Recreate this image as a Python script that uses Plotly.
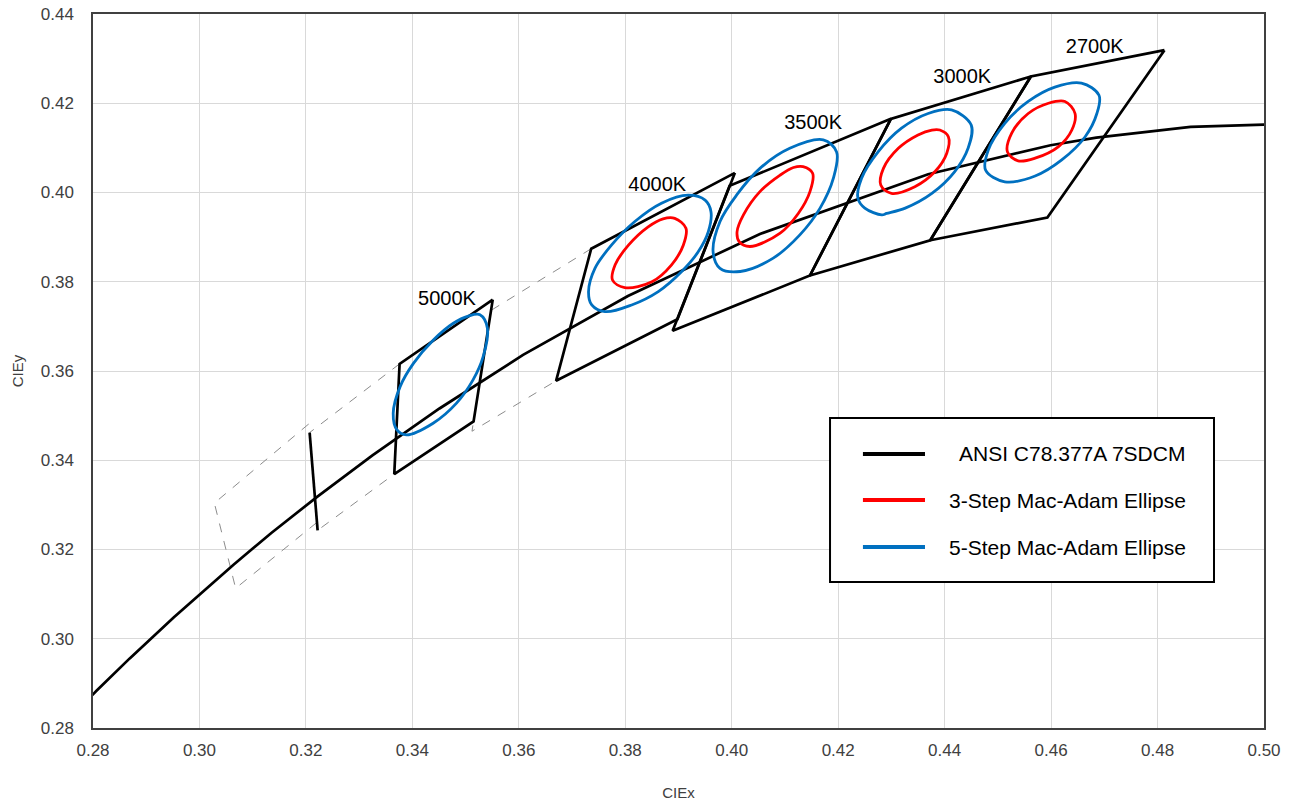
import plotly.graph_objects as go

# Planckian locus, CIE 1931 (x, y)
locus_x = [0.2759, 0.2807, 0.2869, 0.2952, 0.3064, 0.3135, 0.3221, 0.3325, 0.3451,
           0.3608, 0.3805, 0.4053, 0.4369, 0.4599, 0.4685, 0.4862, 0.5018]
locus_y = [0.2826, 0.2884, 0.2956, 0.3048, 0.3166, 0.3237, 0.3318, 0.3411, 0.3516,
           0.3636, 0.3768, 0.3907, 0.4041, 0.4106, 0.4123, 0.4147, 0.4153]

# ANSI C78.377A quadrangles (solid)
q2700_x = [0.4813, 0.4562, 0.4373, 0.4593]
q2700_y = [0.4319, 0.4260, 0.3893, 0.3944]
q3000_x = [0.4562, 0.4299, 0.4147, 0.4373]
q3000_y = [0.4260, 0.4165, 0.3814, 0.3893]
q3500_x = [0.4299, 0.3996, 0.3889, 0.4147]
q3500_y = [0.4165, 0.4015, 0.3690, 0.3814]
q4000_x = [0.4006, 0.3736, 0.3670, 0.3898]
q4000_y = [0.4044, 0.3874, 0.3578, 0.3716]
q5000_x = [0.3551, 0.3376, 0.3366, 0.3515]
q5000_y = [0.3760, 0.3616, 0.3369, 0.3487]

# quadrangles outlined with dashes
q4500_x = [0.3736, 0.3548, 0.3512, 0.3670]
q4500_y = [0.3874, 0.3736, 0.3465, 0.3578]
q5700_x = [0.3376, 0.3207, 0.3222, 0.3366]
q5700_y = [0.3616, 0.3462, 0.3243, 0.3369]
q6500_x = [0.3205, 0.3028, 0.3068, 0.3221]
q6500_y = [0.3481, 0.3304, 0.3113, 0.3261]

# 5700K cool-side boundary
edge5700_x = [0.3207, 0.3222]
edge5700_y = [0.3462, 0.3243]

# 5-step MacAdam ellipses
e5_5000_x = [0.3527, 0.3541, 0.3533, 0.3514, 0.3483, 0.3439, 0.3389, 0.3371, 0.3364,
             0.3377, 0.3402, 0.3439, 0.3477, 0.3505]
e5_5000_y = [0.3726, 0.3696, 0.3632, 0.3580, 0.3528, 0.3483, 0.3457, 0.3468, 0.3505,
             0.3565, 0.3617, 0.3669, 0.3707, 0.3723]
e5_4000_x = [0.3918, 0.3950, 0.3961, 0.3956, 0.3937, 0.3906, 0.3862, 0.3812, 0.3762,
             0.3737, 0.3731, 0.3743, 0.3774, 0.3818, 0.3868]
e5_4000_y = [0.3994, 0.3983, 0.3957, 0.3912, 0.3867, 0.3823, 0.3778, 0.3748, 0.3733,
             0.3748, 0.3778, 0.3830, 0.3882, 0.3935, 0.3976]
e5_3500_x = [0.4172, 0.4197, 0.4191, 0.4166, 0.4128, 0.4078, 0.4016, 0.3978, 0.3965,
             0.3978, 0.4009, 0.4053, 0.4109]
e5_3500_y = [0.4118, 0.4091, 0.4032, 0.3965, 0.3905, 0.3853, 0.3823, 0.3830, 0.3867,
             0.3935, 0.3994, 0.4054, 0.4099]
e5_3000_x = [0.4413, 0.4450, 0.4444, 0.4419, 0.4376, 0.4326, 0.4291, 0.4282, 0.4250,
             0.4237, 0.4244, 0.4275, 0.4319, 0.4369]
e5_3000_y = [0.4185, 0.4151, 0.4099, 0.4047, 0.3998, 0.3965, 0.3953, 0.3950, 0.3965,
             0.3987, 0.4032, 0.4091, 0.4144, 0.4177]
e5_2700_x = [0.4657, 0.4690, 0.4686, 0.4664, 0.4620, 0.4570, 0.4513, 0.4477, 0.4482,
             0.4513, 0.4557, 0.4607]
e5_2700_y = [0.4245, 0.4218, 0.4177, 0.4125, 0.4073, 0.4037, 0.4024, 0.4050, 0.4095,
             0.4155, 0.4204, 0.4236]

# 3-step MacAdam ellipses
e3_4000_x = [0.3893, 0.3914, 0.3909, 0.3887, 0.3850, 0.3799, 0.3776, 0.3781, 0.3806,
             0.3843, 0.3871]
e3_4000_y = [0.3942, 0.3920, 0.3882, 0.3838, 0.3800, 0.3787, 0.3804, 0.3838, 0.3882,
             0.3923, 0.3941]
e3_3500_x = [0.4134, 0.4152, 0.4147, 0.4125, 0.4091, 0.4034, 0.4014, 0.4010, 0.4022,
             0.4053, 0.4091, 0.4116]
e3_3500_y = [0.4058, 0.4043, 0.4002, 0.3953, 0.3909, 0.3879, 0.3890, 0.3912, 0.3950,
             0.4002, 0.4039, 0.4056]
e3_3000_x = [0.4391, 0.4407, 0.4404, 0.4382, 0.4344, 0.4300, 0.4280, 0.4285, 0.4313,
             0.4350, 0.4376]
e3_3000_y = [0.4140, 0.4125, 0.4088, 0.4047, 0.4013, 0.3998, 0.4017, 0.4054, 0.4099,
             0.4129, 0.4140]
e3_2700_x = [0.4626, 0.4645, 0.4639, 0.4614, 0.4570, 0.4538, 0.4518, 0.4526, 0.4557,
             0.4595]
e3_2700_y = [0.4204, 0.4177, 0.4140, 0.4103, 0.4077, 0.4071, 0.4091, 0.4133, 0.4177,
             0.4200]

# CCT labels
label_text = ["2700K", "3000K", "3500K", "4000K", "5000K"]
label_x = [0.4682, 0.4433, 0.4153, 0.3860, 0.3465]
label_y = [0.4324, 0.4257, 0.4154, 0.4015, 0.3759]

# legend entries
legend_names = ["ANSI C78.377A 7SDCM", "3-Step Mac-Adam Ellipse", "5-Step Mac-Adam Ellipse"]

BLACK = "#000000"
RED = "#FF0000"
BLUE = "#0070C0"
GRAY = "#8C8C8C"
FONT = "Liberation Sans, Arial, sans-serif"


def closed(xs, ys):
    return list(xs) + [xs[0]], list(ys) + [ys[0]]


fig = go.Figure()

# dashed neighbour quadrangles
for qx, qy in [(q4500_x, q4500_y), (q5700_x, q5700_y), (q6500_x, q6500_y)]:
    cx, cy = closed(qx, qy)
    fig.add_trace(go.Scatter(x=cx, y=cy, mode="lines", showlegend=False, hoverinfo="skip",
                             line=dict(color=GRAY, width=1, dash="dash")))

# black locus
fig.add_trace(go.Scatter(x=locus_x, y=locus_y, mode="lines", showlegend=False,
                         line=dict(color=BLACK, width=2.7)))

# solid quadrangles
for qx, qy in [(q2700_x, q2700_y), (q3000_x, q3000_y), (q3500_x, q3500_y),
               (q4000_x, q4000_y), (q5000_x, q5000_y)]:
    cx, cy = closed(qx, qy)
    fig.add_trace(go.Scatter(x=cx, y=cy, mode="lines", showlegend=False,
                             line=dict(color=BLACK, width=2.7)))

fig.add_trace(go.Scatter(x=edge5700_x, y=edge5700_y, mode="lines", showlegend=False,
                         line=dict(color=BLACK, width=2.7)))

# ellipses
for ex, ey in [(e5_5000_x, e5_5000_y), (e5_4000_x, e5_4000_y), (e5_3500_x, e5_3500_y),
               (e5_3000_x, e5_3000_y), (e5_2700_x, e5_2700_y)]:
    cx, cy = closed(ex, ey)
    fig.add_trace(go.Scatter(x=cx, y=cy, mode="lines", showlegend=False,
                             line=dict(color=BLUE, width=2.8, shape="spline", smoothing=1.0)))

for ex, ey in [(e3_4000_x, e3_4000_y), (e3_3500_x, e3_3500_y),
               (e3_3000_x, e3_3000_y), (e3_2700_x, e3_2700_y)]:
    cx, cy = closed(ex, ey)
    fig.add_trace(go.Scatter(x=cx, y=cy, mode="lines", showlegend=False,
                             line=dict(color=RED, width=2.8, shape="spline", smoothing=1.0)))

# CCT labels
fig.add_trace(go.Scatter(x=label_x, y=label_y, mode="text", text=label_text,
                         showlegend=False, hoverinfo="skip",
                         textfont=dict(family=FONT, size=20, color=BLACK)))

# legend box drawn in paper coordinates
shapes = [dict(type="rect", xref="paper", yref="paper", x0=0.6294, x1=0.9573,
               y0=0.2045, y1=0.4342, line=dict(color=BLACK, width=2),
               fillcolor="white", layer="above")]
legend_colors = [BLACK, RED, BLUE]
legend_rows = [0.3838, 0.3193, 0.2535]
legend_text_x = [0.7378, 0.7292, 0.7292]
annotations = []
for name, col, ry, tx in zip(legend_names, legend_colors, legend_rows, legend_text_x):
    shapes.append(dict(type="line", xref="paper", yref="paper", x0=0.6575, x1=0.7105,
                       y0=ry, y1=ry, line=dict(color=col, width=4), layer="above"))
    annotations.append(dict(xref="paper", yref="paper", x=tx, y=ry, text=name,
                            showarrow=False, xanchor="left", yanchor="middle",
                            font=dict(family=FONT, size=21, color=BLACK)))

fig.update_layout(
    width=1295, height=801,
    margin=dict(l=93, r=31, t=14, b=73),
    paper_bgcolor="white", plot_bgcolor="white",
    shapes=shapes, annotations=annotations,
    font=dict(family=FONT),
    showlegend=False,
)
fig.update_xaxes(range=[0.28, 0.50], dtick=0.02, tick0=0.28, tickformat=".2f",
                 automargin=False,
                 showgrid=True, gridcolor="#D9D9D9", gridwidth=1,
                 showline=True, linecolor="#404040", linewidth=1.5, mirror=True,
                 zeroline=False, ticks="", ticklabelstandoff=6,
                 tickfont=dict(family=FONT, size=17, color="#404040"),
                 title=dict(text="CIEx", standoff=30,
                            font=dict(family=FONT, size=15, color="#404040")))
fig.update_yaxes(range=[0.28, 0.44], dtick=0.02, tick0=0.28, tickformat=".2f",
                 automargin=False,
                 showgrid=True, gridcolor="#D9D9D9", gridwidth=1,
                 showline=True, linecolor="#404040", linewidth=1.5, mirror=True,
                 zeroline=False, ticks="", ticklabelstandoff=14,
                 tickfont=dict(family=FONT, size=17, color="#404040"),
                 title=dict(text="CIEy", standoff=14,
                            font=dict(family=FONT, size=15, color="#404040")))

fig.write_html("out.html")
